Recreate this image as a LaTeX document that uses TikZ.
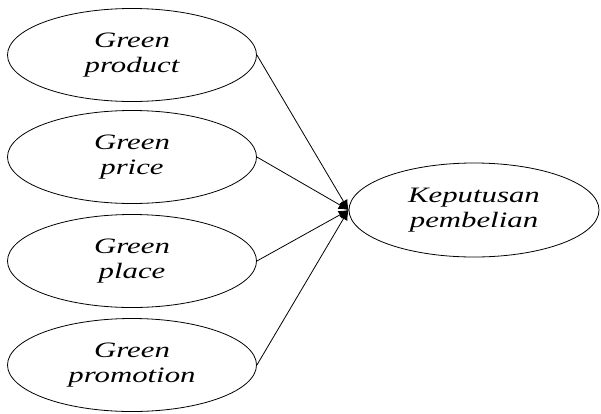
\documentclass[tikz,border=0pt]{standalone}
\usepackage{fontspec}
\usepackage{graphicx}
\setmainfont{Liberation Serif}
\usetikzlibrary{arrows.meta,shapes.geometric}
\newcommand{\wx}[1]{\scalebox{1.4}[1]{#1}}
\begin{document}
\begin{tikzpicture}[x=1pt,y=-1pt,
  oval/.style={draw, ellipse, line width=0.8pt, minimum width=249pt, minimum height=93pt, inner sep=0pt,
    font=\fontsize{22}{25}\selectfont\itshape, align=center},
  conn/.style={-{Latex[length=10pt,width=9pt]}, line width=0.8pt}]
\useasboundingbox (0,0) rectangle (601,413);
\node[oval] (prod) at (132,55) {\wx{Green}\\\wx{product}};
\node[oval] (price) at (132,157) {\wx{Green}\\\wx{price}};
\node[oval] (place) at (132,261) {\wx{Green}\\\wx{place}};
\node[oval] (promo) at (132,365) {\wx{Green}\\\wx{promotion}};
\node[oval, minimum width=250pt, minimum height=94pt] (kep) at (474,210) {\wx{Keputusan}\\\wx{pembelian}};
\draw[conn] (prod.east) -- (kep.west);
\draw[conn] (price.east) -- (kep.west);
\draw[conn] (place.east) -- (kep.west);
\draw[conn] (promo.east) -- (kep.west);
\end{tikzpicture}
\end{document}
